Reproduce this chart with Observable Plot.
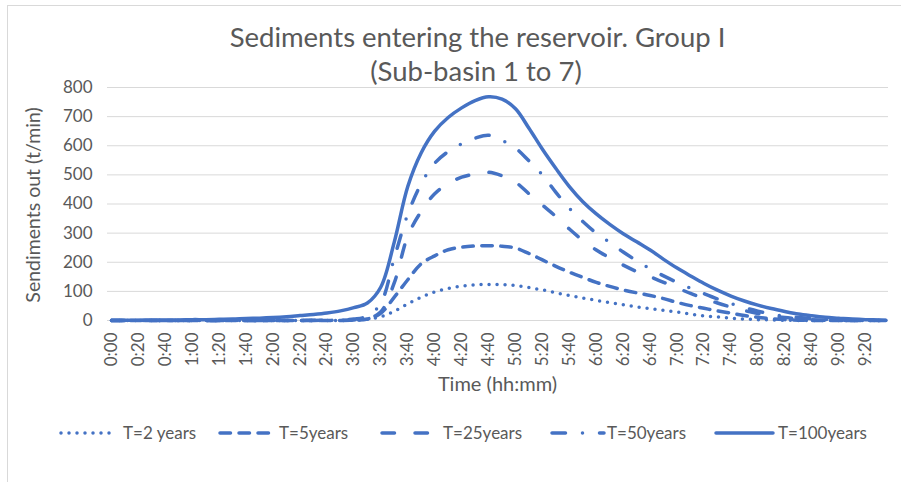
<!DOCTYPE html>
<html>
<head>
<meta charset="utf-8">
<script src="https://cdn.jsdelivr.net/npm/d3@7"></script>
<script src="https://cdn.jsdelivr.net/npm/@observablehq/plot@0.6"></script>
<style>
  body { margin: 0; background: #fff; }
  #wrap { position: relative; width: 901px; height: 482px; overflow: hidden; background: #fff; font-family: Lato, "Open Sans", sans-serif; }
  #frame { position: absolute; left: 7px; top: 5px; width: 1000px; height: 1000px; border: 1px solid #d9d9d9; box-sizing: border-box; }
  #chart { position: absolute; left: 0; top: 0; }
  #overlay { position: absolute; left: 0; top: 0; pointer-events: none; }
</style>
</head>
<body>
<div id="wrap">
  <div id="frame"></div>
  <div id="chart"></div>
  <svg id="overlay" width="901" height="482"></svg>
</div>
<script>
// ---- data ----
const times = [
  "0:00","0:10","0:20","0:30","0:40","0:50","1:00","1:10","1:20","1:30",
  "1:40","1:50","2:00","2:10","2:20","2:30","2:40","2:50","3:00","3:10",
  "3:20","3:30","3:40","3:50","4:00","4:10","4:20","4:30","4:40","4:50",
  "5:00","5:10","5:20","5:30","5:40","5:50","6:00","6:10","6:20","6:30",
  "6:40","6:50","7:00","7:10","7:20","7:30","7:40","7:50","8:00","8:10",
  "8:20","8:30","8:40","8:50","9:00","9:10","9:20","9:30","9:35"
];
const tickLabels = [
  "0:00","0:20","0:40","1:00","1:20","1:40","2:00","2:20","2:40","3:00",
  "3:20","3:40","4:00","4:20","4:40","5:00","5:20","5:40","6:00","6:20",
  "6:40","7:00","7:20","7:40","8:00","8:20","8:40","9:00","9:20"
];
const yTicks = [0, 100, 200, 300, 400, 500, 600, 700, 800];
const seriesNames = ["T=2 years", "T=5years", "T=25years", "T=50years", "T=100years"];

const t2 = [
  0,0,0,0,0,0,0,0,0,0,
  0,0,0,0,0,0,0,0,1,4,
  13,32,57,80,98,110,118,122,124,123,
  120,113,105,95,86,77,69,61,54,47,
  41,35,29,22,16,12,8,5,3,2,
  1,0,0,0,0,0,0,0,
  0
];
const t5 = [
  0,0,0,0,0,0,0,0,0,0,
  0,0,0,0,0,0,0,0,1,5,
  25,80,140,195,222,243,252,256,257,255,
  249,230,208,186,166,148,131,117,105,95,
  86,75,62,51,42,33,25,17,11,6,
  3,1,0,0,0,0,0,0,
  0
];
const t25 = [
  0,0,0,0,0,0,0,0,0,0,
  0,0,0,0,0,0,1,1,2,6,
  30,130,290,375,435,470,492,503,509,497,
  475,435,396,357,314,275,242,215,190,168,
  150,131,112,93,76,60,46,34,24,16,
  10,6,3,1,0,0,0,0,
  0
];
const t50 = [
  0,0,0,0,0,0,0,0,0,0,
  0,0,0,0,0,1,1,2,5,15,
  60,215,365,470,540,580,607,626,636,618,
  592,548,500,440,385,340,300,268,235,205,
  177,153,131,111,92,74,58,44,32,22,
  15,10,6,4,2,1,0,0,
  0
];
const t100 = [
  1,1,1,2,2,2,3,3,4,5,
  7,8,10,13,17,21,26,33,44,60,
  115,270,460,576,650,697,730,755,768,760,
  727,660,588,522,460,408,366,330,298,270,
  242,210,180,153,127,104,84,67,53,41,
  31,22,16,11,8,5,3,2,
  1
];

// ---- build ----
const toMin = s => { const [h, m] = s.split(":").map(Number); return h * 60 + m; };
const seriesValues = [t2, t5, t25, t50, t100];
const rows = [];
seriesValues.forEach((vals, i) => vals.forEach((v, j) => rows.push({ series: seriesNames[i], t: toMin(times[j]), v })));

const blue = "#4472C4";
const textColor = "#595959";
const dashes = {
  "T=2 years": "0 8",
  "T=5years": "10.5 8.5",
  "T=25years": "12.5 20.5",
  "T=50years": "13.5 17 0 17",
  "T=100years": null
};
const tickMins = tickLabels.map(toMin);

const chart = Plot.plot({
  width: 901,
  height: 400,
  marginLeft: 107,
  marginRight: 13,
  marginTop: 87,
  marginBottom: 80,
  style: { fontFamily: "Lato, sans-serif", fontSize: "17px", color: textColor, background: "transparent", overflow: "visible" },
  x: {
    domain: [-3, 577],
    ticks: tickMins,
    tickFormat: d => tickLabels[tickMins.indexOf(d)],
    tickRotate: -90,
    tickSize: 0,
    tickPadding: 12,
    label: null
  },
  y: {
    domain: [0, 800],
    ticks: yTicks,
    tickSize: 0,
    tickPadding: 15,
    label: null
  },
  marks: [
    Plot.ruleY(yTicks, { stroke: "#d9d9d9", strokeWidth: 1 }),
    ...seriesNames.map(name => Plot.line(rows.filter(d => d.series === name), {
      x: "t", y: "v",
      stroke: blue,
      strokeWidth: 3.5,
      strokeDasharray: dashes[name] || undefined,
      strokeLinecap: "round",
      strokeLinejoin: "round",
      curve: "catmull-rom"
    }))
  ]
});
document.getElementById("chart").appendChild(chart);

// ---- titles, axis titles and legend ----
const ov = d3.select("#overlay");
const font = "Lato, sans-serif";
ov.append("text").attr("x", 477.5).attr("y", 47).attr("text-anchor", "middle")
  .attr("font-family", font).attr("font-size", 27.5).attr("fill", textColor)
  .text("Sediments entering the reservoir. Group I");
ov.append("text").attr("x", 476).attr("y", 81).attr("text-anchor", "middle")
  .attr("font-family", font).attr("font-size", 27.5).attr("fill", textColor)
  .text("(Sub-basin 1 to 7)");
ov.append("text").attr("transform", "translate(40,205) rotate(-90)").attr("text-anchor", "middle")
  .attr("font-family", font).attr("font-size", 19.5).attr("fill", textColor)
  .text("Sendiments out (t/min)");
ov.append("text").attr("x", 497.5).attr("y", 391).attr("text-anchor", "middle")
  .attr("font-family", font).attr("font-size", 20).attr("fill", textColor)
  .text("Time (hh:mm)");

const legendX = [[61, 112, 123], [220, 272, 279], [382, 432, 443], [552, 604, 607], [716, 773, 778]];
seriesNames.forEach((name, i) => {
  const [x1, x2, tx] = legendX[i];
  const ln = ov.append("line").attr("x1", x1).attr("x2", x2).attr("y1", 433).attr("y2", 433)
    .attr("stroke", blue).attr("stroke-width", 3.5).attr("stroke-linecap", "round");
  if (dashes[name]) ln.attr("stroke-dasharray", dashes[name]);
  ov.append("text").attr("x", tx).attr("y", 439)
    .attr("font-family", font).attr("font-size", 17).attr("fill", textColor)
    .text(name);
});
</script>
</body>
</html>
